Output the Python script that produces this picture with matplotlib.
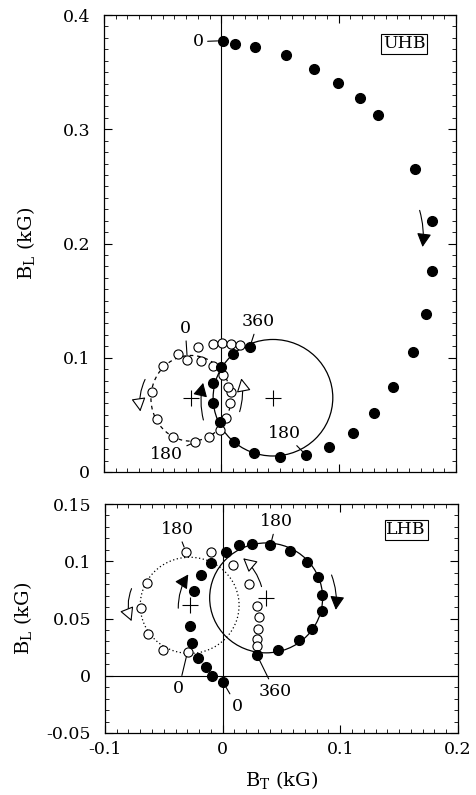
import numpy as np
import matplotlib
matplotlib.use("Agg")
import matplotlib.pyplot as plt
from matplotlib.patches import Ellipse
from matplotlib.ticker import MultipleLocator

plt.rcParams['font.family'] = ['DejaVu Serif']
plt.rcParams['mathtext.fontset'] = 'dejavuserif'

# ---- UHB (upper panel) ----
uhb_filled_x = [0.001, 0.0114, 0.029, 0.0554, 0.079, 0.0997, 0.1185, 0.1338, 0.1648,
                0.1796, 0.1796, 0.1745, 0.1634, 0.1463, 0.1298, 0.1122, 0.0915, 0.0724,
                0.050, 0.0279, 0.0108, -0.0009, -0.0068, -0.0068, 0.0, 0.0102, 0.0244]
uhb_filled_y = [0.3775, 0.375, 0.372, 0.3647, 0.353, 0.3408, 0.3276, 0.3128, 0.2655,
                0.2197, 0.1757, 0.1383, 0.1053, 0.0747, 0.0513, 0.0344, 0.0216, 0.0146,
                0.0129, 0.0169, 0.0265, 0.044, 0.0607, 0.0782, 0.0922, 0.103, 0.1097]
uhb_open_x = [-0.029, -0.0369, -0.0494, -0.059, -0.0545, -0.041, -0.0222, -0.0108,
              -0.0014, 0.0043, 0.0074, 0.0085, 0.0057, 0.0014, -0.0068, -0.017,
              -0.0199, -0.0071, 0.0006, 0.0085, 0.0156]
uhb_open_y = [0.098, 0.103, 0.093, 0.0703, 0.046, 0.031, 0.0263, 0.0304,
              0.0368, 0.047, 0.0607, 0.0703, 0.0747, 0.0849, 0.093, 0.0974,
              0.109, 0.1118, 0.1126, 0.1118, 0.1112]
uhb_solid_circle = (0.044, 0.065, 0.051)          # x0, y0, r
uhb_dash_ellipse = (-0.026, 0.0645, 0.068, 0.075)  # x0, y0, width, height
uhb_labels = [("0", -0.0199, 0.3767, 0.001, 0.3775),
              ("360", 0.0313, 0.1316, 0.0244, 0.1097),
              ("0", -0.0307, 0.1258, -0.029, 0.098),
              ("180", -0.0469, 0.0149, -0.0222, 0.0263),
              ("180", 0.054, 0.0338, 0.0724, 0.0146)]
# (x_start, y_start, x_end, y_end, rad, filled)
uhb_arrows = [(0.169, 0.229, 0.1715, 0.197, -0.1, True),
              (-0.0153, 0.0455, -0.0155, 0.078, -0.12, True),
              (-0.065, 0.081, -0.069, 0.053, 0.15, False),
              (0.0156, 0.0528, 0.017, 0.082, 0.12, False)]

# ---- LHB (lower panel) ----
lhb_filled_x = [0.0005, -0.0086, -0.0145, -0.021, -0.0261, -0.0278, -0.0247, -0.0182,
                -0.0097, 0.0025, 0.0141, 0.0254, 0.0407, 0.0577, 0.0721, 0.0811,
                0.0845, 0.0848, 0.0763, 0.0647, 0.0469, 0.0294]
lhb_filled_y = [-0.0058, 0.0, 0.0073, 0.0154, 0.0285, 0.0436, 0.0744, 0.088,
                0.0988, 0.1078, 0.114, 0.1148, 0.1142, 0.1087, 0.0991, 0.086,
                0.0706, 0.0564, 0.041, 0.0314, 0.0221, 0.0177]
lhb_open_x = [-0.0298, -0.0508, -0.0635, -0.0697, -0.0646, -0.0312, -0.01, 0.009,
              0.0226, 0.0296, 0.031, 0.0302, 0.0296, 0.0296]
lhb_open_y = [0.0209, 0.0221, 0.0363, 0.0593, 0.0814, 0.1084, 0.1081, 0.0971,
              0.0802, 0.061, 0.0512, 0.041, 0.0323, 0.0256]
lhb_solid_circle = (0.037, 0.068, 0.048)
lhb_dot_ellipse = (-0.028, 0.0615, 0.084, 0.084)
lhb_labels = [("180", -0.0386, 0.1279, -0.0312, 0.1084),
              ("180", 0.0458, 0.1346, 0.0407, 0.1142),
              ("0", -0.0372, -0.0108, -0.0298, 0.0209),
              ("0", 0.0124, -0.0267, 0.0005, -0.0058),
              ("360", 0.0444, -0.0137, 0.0294, 0.0177)]
lhb_arrows = [(-0.0774, 0.0761, -0.0774, 0.0477, 0.2, False),
              (-0.0377, 0.059, -0.0292, 0.0885, -0.15, True),
              (0.0331, 0.0779, 0.0175, 0.1026, 0.15, False),
              (0.0926, 0.088, 0.0962, 0.0576, -0.12, True)]

FS = 12.5


def style_axes(ax, ylim, yticks):
    ax.set_xlim(-0.1, 0.2)
    ax.set_ylim(*ylim)
    ax.xaxis.set_major_locator(MultipleLocator(0.05))
    ax.xaxis.set_minor_locator(MultipleLocator(0.01))
    ax.yaxis.set_major_locator(MultipleLocator(0.05))
    ax.yaxis.set_minor_locator(MultipleLocator(0.01))
    ax.tick_params(which='both', direction='in', top=True, right=True, labelsize=FS)
    ax.tick_params(which='major', length=6, width=0.8)
    ax.tick_params(which='minor', length=3, width=0.6)
    ax.tick_params(axis='y', pad=10)
    ax.tick_params(axis='x', pad=6)
    ax.set_yticks(yticks)
    ax.set_yticklabels([('%g' % v) for v in yticks])
    for s in ax.spines.values():
        s.set_linewidth(0.9)
    ax.set_ylabel(r'B$_\mathrm{L}$ (kG)', fontsize=14)


def draw_panel(ax, fx, fy, ox, oy, circ, ell, ell_ls, labels, arrows, tag):
    ax.axvline(0, color='k', lw=0.8, zorder=1)
    ax.add_patch(plt.Circle(circ[:2], circ[2], fill=False, ec='k', lw=0.9, zorder=2))
    ax.add_patch(Ellipse(ell[:2], ell[2], ell[3], fill=False, ec='k', lw=0.9,
                         ls=ell_ls, zorder=2))
    ax.plot(*circ[:2], marker='+', ms=11, mew=0.8, color='k', zorder=2)
    ax.plot(*ell[:2], marker='+', ms=11, mew=0.8, color='k', zorder=2)
    ax.plot(fx, fy, 'o', ms=7, color='k', zorder=4, ls='none')
    ax.plot(ox, oy, 'o', ms=6.6, mfc='white', mec='k', mew=0.8, zorder=3, ls='none')
    for txt, tx, ty, px, py in labels:
        ax.annotate(txt, xy=(px, py), xytext=(tx, ty), ha='center', va='center',
                    fontsize=FS, zorder=5,
                    arrowprops=dict(arrowstyle='-', lw=0.8, color='k',
                                    shrinkA=1, shrinkB=3.5))
    for x0, y0, x1, y1, rad, filled in arrows:
        ax.annotate('', xy=(x1, y1), xytext=(x0, y0), zorder=5,
                    arrowprops=dict(arrowstyle='-|>,head_length=0.75,head_width=0.4',
                                    lw=0.8, ec='k', fc='k' if filled else 'white',
                                    connectionstyle='arc3,rad=%g' % rad,
                                    shrinkA=0, shrinkB=0, mutation_scale=11))
    ax.text(0.853, 0.937 if tag == 'UHB' else 0.887, tag, transform=ax.transAxes,
            ha='center', va='center', fontsize=FS,
            bbox=dict(boxstyle='square,pad=0.1', fc='white', ec='k', lw=0.8))


fig = plt.figure(figsize=(4.76, 7.95), dpi=100)
ax1 = fig.add_axes([0.2185, 0.4063, 0.7395, 0.5748])
ax2 = fig.add_axes([0.2205, 0.078, 0.7415, 0.288])

draw_panel(ax1, uhb_filled_x, uhb_filled_y, uhb_open_x, uhb_open_y,
           uhb_solid_circle, uhb_dash_ellipse, (0, (3, 3)), uhb_labels, uhb_arrows, 'UHB')
style_axes(ax1, (0, 0.4), [0, 0.1, 0.2, 0.3, 0.4])

draw_panel(ax2, lhb_filled_x, lhb_filled_y, lhb_open_x, lhb_open_y,
           lhb_solid_circle, lhb_dot_ellipse, (0, (1, 2)), lhb_labels, lhb_arrows, 'LHB')
ax2.axhline(0, color='k', lw=0.8, zorder=1)
style_axes(ax2, (-0.05, 0.15), [-0.05, 0, 0.05, 0.1, 0.15])
ax2.set_xticks([-0.1, 0, 0.1, 0.2])
ax2.set_xticklabels(['-0.1', '0', '0.1', '0.2'])
ax1.set_xticks([-0.1, 0, 0.1, 0.2])
ax1.set_xticklabels([])
ax2.set_xlabel(r'B$_\mathrm{T}$ (kG)', fontsize=14, labelpad=8)

ax1.yaxis.set_label_coords(-0.19, 0.5)
ax2.yaxis.set_label_coords(-0.2, 0.5)

fig.savefig('out.png', dpi=100)
